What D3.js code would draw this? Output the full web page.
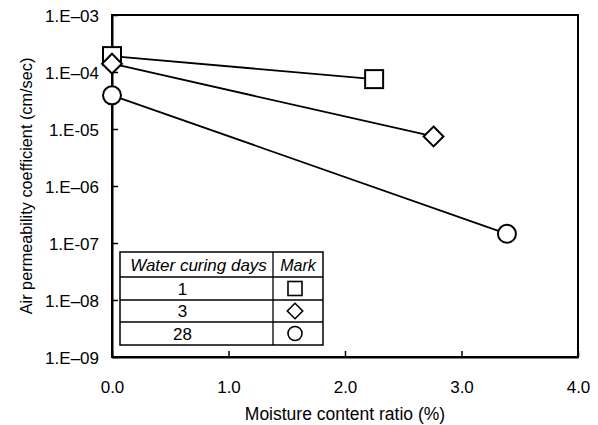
<!DOCTYPE html>
<html>
<head>
<meta charset="utf-8">
<script src="https://cdn.jsdelivr.net/npm/d3@7"></script>
<style>
  body { margin: 0; background: #fff; }
  svg { display: block; font-family: "Liberation Sans", Arial, sans-serif; }
</style>
</head>
<body>
<svg width="598" height="425"></svg>
<script>
// curing days and measured points (moisture %, permeability cm/sec)
const curingDays = ["1", "3", "28"];
const markTypes = ["square", "diamond", "circle"];
const moisture = [
  [0.0, 2.25],
  [0.0, 2.76],
  [0.0, 3.39],
];
const permeability = [
  [1.9e-4, 7.5e-5],
  [1.4e-4, 7.4e-6],
  [3.9e-5, 1.45e-7],
];
const xTicks = [0, 1, 2, 3, 4];
const yTicks = [1e-9, 1e-8, 1e-7, 1e-6, 1e-5, 1e-4, 1e-3];
const yTickLabels = ["1.E\u201309", "1.E\u201308", "1.E-07", "1.E\u201306", "1.E-05", "1.E\u201304", "1.E\u201303"];

const svg = d3.select("svg");
const mLeft = 112, mRight = 578, mTop = 15, mBottom = 357;

const x = d3.scaleLinear().domain([0, 4]).range([mLeft, mRight]);
const y = d3.scaleLog().domain([1e-9, 1e-3]).range([mBottom, mTop]);

// frame
svg.append("rect")
  .attr("x", mLeft).attr("y", mTop)
  .attr("width", mRight - mLeft).attr("height", mBottom - mTop)
  .attr("fill", "none").attr("stroke", "#000").attr("stroke-width", 2);

// axes, ticks pointing inward
const xAxis = svg.append("g")
  .attr("transform", `translate(0,${mBottom})`)
  .call(d3.axisBottom(x).tickValues(xTicks).tickSizeInner(-6).tickSizeOuter(0)
    .tickPadding(24).tickFormat(d3.format(".1f")));
const yAxis = svg.append("g")
  .attr("transform", `translate(${mLeft},0)`)
  .call(d3.axisLeft(y).tickValues(yTicks).tickSizeInner(-6).tickSizeOuter(0)
    .tickPadding(13).tickFormat((d, i) => yTickLabels[i]));

[xAxis, yAxis].forEach(g => {
  g.select(".domain").attr("stroke-width", 2);
  g.selectAll(".tick line").attr("stroke-width", 1.5);
  g.selectAll(".tick text").attr("font-size", 17).attr("fill", "#000")
    .attr("font-family", "Liberation Sans, Arial, sans-serif");
});
yAxis.selectAll(".tick text").attr("dy", "0.36em");

// axis titles
svg.append("text")
  .attr("x", (mLeft + mRight) / 2).attr("y", 420)
  .attr("text-anchor", "middle").attr("font-size", 17.5)
  .text("Moisture content ratio (%)");
svg.append("text")
  .attr("transform", `translate(32,${(mTop + mBottom) / 2}) rotate(-90)`)
  .attr("text-anchor", "middle").attr("font-size", 16.3)
  .text("Air permeability coefficient (cm/sec)");

function drawMark(g, type, cx, cy, s) {
  if (type === "square") {
    g.append("rect").attr("x", cx - s).attr("y", cy - s)
      .attr("width", 2 * s).attr("height", 2 * s);
  } else if (type === "diamond") {
    const d = s * 1.1;
    g.append("path")
      .attr("d", `M${cx},${cy - d}L${cx + d},${cy}L${cx},${cy + d}L${cx - d},${cy}Z`);
  } else {
    g.append("circle").attr("cx", cx).attr("cy", cy).attr("r", s);
  }
}

// lines
const line = d3.line().x(d => x(d[0])).y(d => y(d[1]));
curingDays.forEach((c, i) => {
  const pts = moisture[i].map((m, j) => [m, permeability[i][j]]);
  svg.append("path").datum(pts)
    .attr("d", line).attr("fill", "none")
    .attr("stroke", "#000").attr("stroke-width", 1.8);
});

// markers
curingDays.forEach((c, i) => {
  const g = svg.append("g").attr("fill", "#fff").attr("stroke", "#000").attr("stroke-width", 2);
  moisture[i].forEach((m, j) => {
    drawMark(g, markTypes[i], x(m), y(permeability[i][j]), 9);
  });
});

// legend table
const lx0 = 120, lx1 = 273, lx2 = 323;
const rowY = [252, 277, 300, 322, 345];
const leg = svg.append("g");
leg.append("rect").attr("x", lx0).attr("y", rowY[0])
  .attr("width", lx2 - lx0).attr("height", rowY[4] - rowY[0])
  .attr("fill", "#fff").attr("stroke", "#000").attr("stroke-width", 1.5);
rowY.slice(1, 4).forEach(ry => {
  leg.append("line").attr("x1", lx0).attr("x2", lx2).attr("y1", ry).attr("y2", ry)
    .attr("stroke", "#000").attr("stroke-width", 1.3);
});
leg.append("line").attr("x1", lx1).attr("x2", lx1).attr("y1", rowY[0]).attr("y2", rowY[4])
  .attr("stroke", "#000").attr("stroke-width", 1.3);
leg.append("text").attr("x", (lx0 + lx1) / 2 + 2).attr("y", rowY[1] - 6)
  .attr("text-anchor", "middle").attr("font-size", 17).attr("font-style", "italic")
  .text("Water curing days");
leg.append("text").attr("x", (lx1 + lx2) / 2).attr("y", rowY[1] - 6)
  .attr("text-anchor", "middle").attr("font-size", 16).attr("font-style", "italic")
  .text("Mark");
curingDays.forEach((c, i) => {
  const cy = (rowY[i + 1] + rowY[i + 2]) / 2;
  leg.append("text").attr("x", (lx0 + lx1) / 2 - 14).attr("y", cy + 6)
    .attr("text-anchor", "middle").attr("font-size", 17).text(c);
  const g = leg.append("g").attr("fill", "#fff").attr("stroke", "#000").attr("stroke-width", 1.6);
  drawMark(g, markTypes[i], 295, cy, 7);
});
</script>
</body>
</html>
